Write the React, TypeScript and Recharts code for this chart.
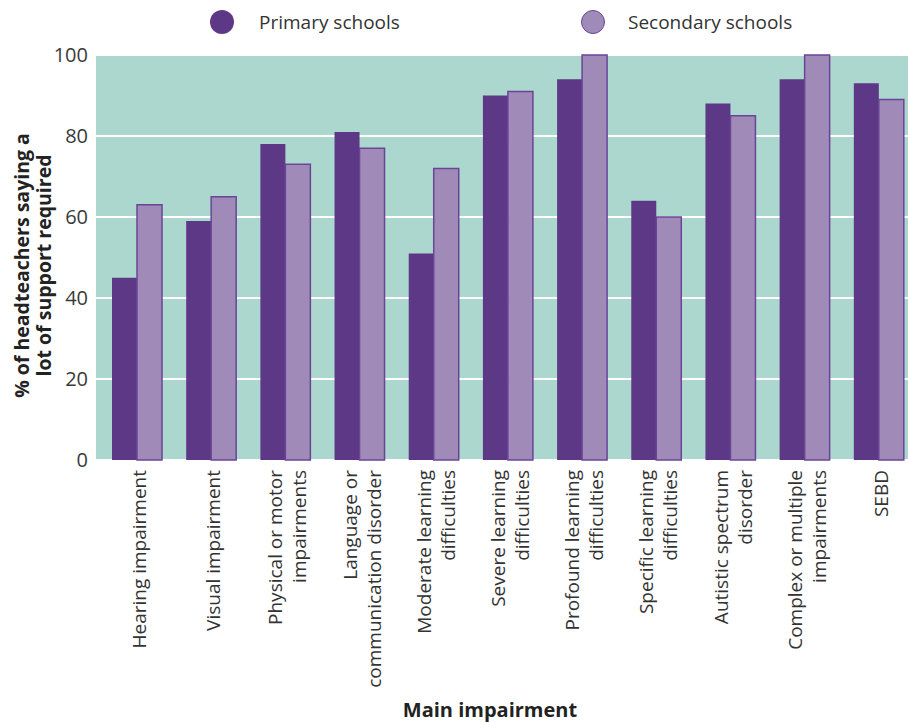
import React from 'react';
import { BarChart, Bar, XAxis, YAxis, CartesianGrid, Legend, Label } from 'recharts';

const categories = [
  'Hearing impairment',
  'Visual impairment',
  'Physical or motor\nimpairments',
  'Language or\ncommunication disorder',
  'Moderate learning\ndifficulties',
  'Severe learning\ndifficulties',
  'Profound learning\ndifficulties',
  'Specific learning\ndifficulties',
  'Autistic spectrum\ndisorder',
  'Complex or multiple\nimpairments',
  'SEBD',
];
const primary = [45, 59, 78, 81, 51, 90, 94, 64, 88, 94, 93];
const secondary = [63, 65, 73, 77, 72, 91, 100, 60, 85, 100, 89];
const yTicks = [0, 20, 40, 60, 80, 100];

const seriesNames = ['Primary schools', 'Secondary schools'];
const FONT = '"Open Sans", sans-serif';
const PRIMARY = '#5c3886';
const SECONDARY = '#a08ab8';
const OUTLINE = '#6a4597';

const data = categories.map((c, i) => ({ name: c, primary: primary[i], secondary: secondary[i] }));

const CategoryTick = (props: any) => {
  const { x, y, payload } = props;
  const lines = String(payload.value).split('\n');
  return (
    <g>
      {lines.map((ln, i) => (
        <text
          key={i}
          transform={`translate(${x + (i - (lines.length - 1) / 2) * 24 + 2}, ${y + 2}) rotate(-90)`}
          textAnchor="end"
          dominantBaseline="central"
          fontSize={19}
          fill="#333"
          fontFamily={FONT}
        >
          {ln}
        </text>
      ))}
    </g>
  );
};

const YLabel = (props: any) => {
  const { viewBox } = props;
  const cy = viewBox.y + viewBox.height / 2 + 8;
  const rows = ['% of headteachers saying a', 'lot of support required'];
  return (
    <g>
      {rows.map((r, i) => (
        <text
          key={i}
          transform={`translate(${21 + i * 22}, ${cy}) rotate(-90)`}
          textAnchor="middle"
          dominantBaseline="central"
          fontSize={19.5}
          fontWeight="bold"
          fill="#222"
          fontFamily={FONT}
        >
          {r}
        </text>
      ))}
    </g>
  );
};

const XLabel = (props: any) => {
  const { viewBox } = props;
  return (
    <text
      x={viewBox.x + viewBox.width / 2 - 16}
      y={viewBox.y + viewBox.height - 5}
      textAnchor="middle"
      fontSize={20}
      fontWeight="bold"
      fill="#222"
      fontFamily={FONT}
    >
      Main impairment
    </text>
  );
};

const LegendContent = () => {
  const fills = [PRIMARY, SECONDARY];
  const pos = [222, 593];
  return (
    <div style={{ position: 'relative', width: 908, height: 45 }}>
      {seriesNames.map((n, i) => (
        <div
          key={n}
          style={{
            position: 'absolute',
            left: pos[i] - 12,
            top: 9,
            display: 'flex',
            alignItems: 'center',
            fontFamily: FONT,
            fontSize: 19,
            color: '#333',
          }}
        >
          <span
            style={{
              width: i === 0 ? 24 : 22,
              height: i === 0 ? 24 : 22,
              borderRadius: '50%',
              background: fills[i],
              border: i === 0 ? 'none' : `1.5px solid ${OUTLINE}`,
              marginRight: i === 0 ? 25 : 23,
              display: 'inline-block',
            }}
          />
          <span>{n}</span>
        </div>
      ))}
    </div>
  );
};

export default function App() {
  return (
    <div style={{ position: 'absolute', left: 0, top: 0, width: 908, height: 722, overflow: 'hidden', background: '#fff' }}>
      <BarChart
        width={920}
        height={722}
        data={data}
        margin={{ top: 55, right: 4, left: 0, bottom: 0 }}
        barGap={0}
        barSize={25}
      >
        <CartesianGrid vertical={false} stroke="#ffffff" strokeWidth={2} fill="#acd7ce" />
        <XAxis
          dataKey="name"
          interval={0}
          height={262}
          padding={{ left: 4, right: 0 }}
          tickLine={false}
          axisLine={false}
          tick={<CategoryTick />}
        >
          <Label content={<XLabel />} />
        </XAxis>
        <YAxis
          width={96}
          domain={[0, 100]}
          ticks={yTicks}
          tickLine={false}
          axisLine={false}
          tick={{ fontSize: 20, fill: '#3a3a3a', fontFamily: FONT }}
          tickMargin={2}
        >
          <Label content={<YLabel />} />
        </YAxis>
        <Legend
          verticalAlign="middle"
          align="center"
          layout="horizontal"
          wrapperStyle={{ top: 0, left: 0, width: 908 }}
          content={<LegendContent />}
        />
        <Bar dataKey="primary" name={seriesNames[0]} fill={PRIMARY} isAnimationActive={false} />
        <Bar dataKey="secondary" name={seriesNames[1]} fill={SECONDARY} stroke={OUTLINE} strokeWidth={1.5} isAnimationActive={false} />
      </BarChart>
    </div>
  );
}
